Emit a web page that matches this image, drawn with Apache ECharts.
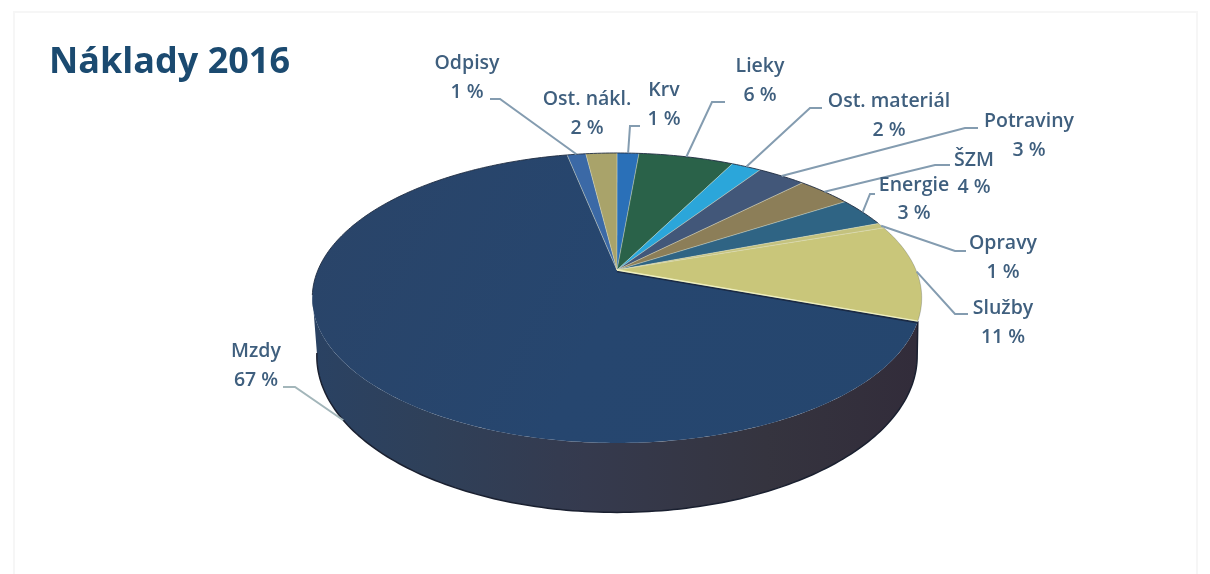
<!DOCTYPE html>
<html><head><meta charset="utf-8">
<style>html,body{margin:0;padding:0;background:#fff}#c{width:1210px;height:574px}</style>
<script src="https://cdn.jsdelivr.net/npm/echarts@6/dist/echarts.min.js"></script>
</head><body><div id="c"></div>
<script>
const titleText = 'Náklady 2016';
const categories = ['Mzdy','Odpisy','Ost. nákl.','Krv','Lieky','Ost. materiál','Potraviny','ŠZM','Energie','Opravy','Služby'];
const values = [66.6,1.2,2.0,1.4,6.1,1.9,3.1,3.5,3.3,0.6,10.8];
const colors = ['#27456c','#3b69a6','#a9a36a','#2a70b8','#2a6249','#2ba6da','#425779','#8c7e58','#2f6484','#c4c27e','#c9c67a'];

// Projection of the tilted disc
const geo = {cx:617, cy:270, A:299, B:139.6, k:0.193, depth:56, wallScale:0.985, start:20, wallFrom:11, wallTo:170};
// Label layout: centre x, two lines' middle y, elbow points of the leader
const layout = [
 {x:256,y:[351,380],line:[[283,387],[295,387]],wall:146},
 {x:467,y:[63,92],line:[[490,99],[500,99]]},
 {x:587,y:[99,128]},
 {x:664,y:[90,119],line:[[640,126],[630,126]]},
 {x:760,y:[66,95],line:[[725,102],[712,102]]},
 {x:889,y:[101,130],line:[[822,108],[810,108]]},
 {x:1029,y:[121,150],line:[[978,128],[965,128]]},
 {x:974,y:[160,187],line:[[950,165],[935,165]]},
 {x:914,y:[185,213],line:[[875,194],[870,194]]},
 {x:1003,y:[243,272],line:[[966,251],[955,251]]},
 {x:1003,y:[308,337],line:[[968,314],[955,314]]}
];

const total = values.reduce((a,b)=>a+b,0);
const starts = []; values.reduce((acc,v,i)=>{starts[i]=acc; return acc+v/total*360;}, geo.start);
const rad = d=>d*Math.PI/180;
function proj(deg, wall){
  const u=Math.cos(rad(deg)), v=Math.sin(rad(deg)), f=1/(1-geo.k*v);
  return [geo.cx+geo.A*u*f*(wall?geo.wallScale:1), geo.cy+(geo.B*v+(wall?geo.depth:0))*f];
}
function arc(a,b,wall){const p=[];const n=Math.max(2,Math.ceil(Math.abs(b-a)));for(let i=0;i<=n;i++)p.push(proj(a+(b-a)*i/n,wall));return p;}
const G = echarts.graphic.LinearGradient;
const labelColor = '#3f5f7e';
const labelFont = '600 19.5px "Open Sans"';

function renderItem(params, api){
  const i = params.dataIndex, v = api.value(1);
  const a = starts[i], b = a + v/total*360, kids = [];
  if(i===0){
    const top = arc(a,geo.wallTo,false), bot = arc(geo.wallTo,geo.wallFrom,true);
    kids.push({type:'polygon',shape:{points:top.concat(bot)},
      style:{fill:new G(0,0,1,0,[{offset:0,color:'#2a4263'},{offset:.2,color:'#2f4059'},{offset:.45,color:'#353a4e'},{offset:.75,color:'#35343f'},{offset:1,color:'#322c3a'}])}});
    kids.push({type:'polyline',shape:{points:[proj(a,false)].concat(arc(geo.wallFrom,geo.wallTo,true))},style:{stroke:'#1a2030',lineWidth:1.5,fill:null}});
  }
  const fill = i===0 ? new G(0,0,1,1,[{offset:0,color:'#2a4468'},{offset:.5,color:'#26466f'},{offset:1,color:'#25466e'}]) : colors[i];
  kids.push({type:'polygon',shape:{points:[[geo.cx,geo.cy]].concat(arc(a,b,false))},style:{fill}});
  kids.push({type:'polyline',shape:{points:[proj(a,false),[geo.cx,geo.cy],proj(b,false)]},style:{stroke:'rgba(225,225,195,.45)',lineWidth:.8,fill:null}});
  if(i===values.length-1){
    const e=proj(b,false);
    kids.push({type:'line',shape:{x1:geo.cx,y1:geo.cy+1.5,x2:e[0],y2:e[1]+1.5},style:{stroke:'#1b2a44',lineWidth:1.6}});
    kids.push({type:'line',shape:{x1:geo.cx,y1:geo.cy,x2:e[0],y2:e[1]},style:{stroke:'#eeeebc',lineWidth:1.4}});
  }
  const rimFrom = i===0 ? geo.wallTo : a;
  kids.push({type:'polyline',shape:{points:arc(rimFrom,b,false)},style:{stroke:'#1f2c42',lineWidth:.9,fill:null,opacity:i>8?0.25:1}});
  const L = layout[i];
  if(L.line){
    const end = L.wall ? proj(L.wall,true) : proj((a+b)/2,false);
    kids.push({type:'polyline',shape:{points:L.line.concat([end])},style:{stroke:i===0?'#a3b6ba':'#849cb0',lineWidth:2,fill:null}});
  }
  kids.push({type:'text',style:{text:categories[i],x:L.x,y:L.y[0],align:'center',verticalAlign:'middle',fill:labelColor,font:labelFont}});
  kids.push({type:'text',style:{text:Math.round(v)+' %',x:L.x,y:L.y[1],align:'center',verticalAlign:'middle',fill:labelColor,font:labelFont}});
  return {type:'group',children:kids};
}

const chart = echarts.init(document.getElementById('c'),null,{renderer:'canvas'});
chart.setOption({
  animation:false,
  backgroundColor:'#ffffff',
  title:{text:titleText,left:44,top:40,textStyle:{fontFamily:'Open Sans',fontWeight:'bold',fontSize:36,color:'#1b4a70'}},
  graphic:[{type:'polyline',z:-1,shape:{points:[[14,574],[14,12],[1197,12],[1197,574]]},style:{stroke:'#f6f6f6',lineWidth:2,fill:null}}],
  series:[{type:'custom',coordinateSystem:'none',renderItem,data:values.map((v,i)=>[i,v])}]
});
</script></body></html>
